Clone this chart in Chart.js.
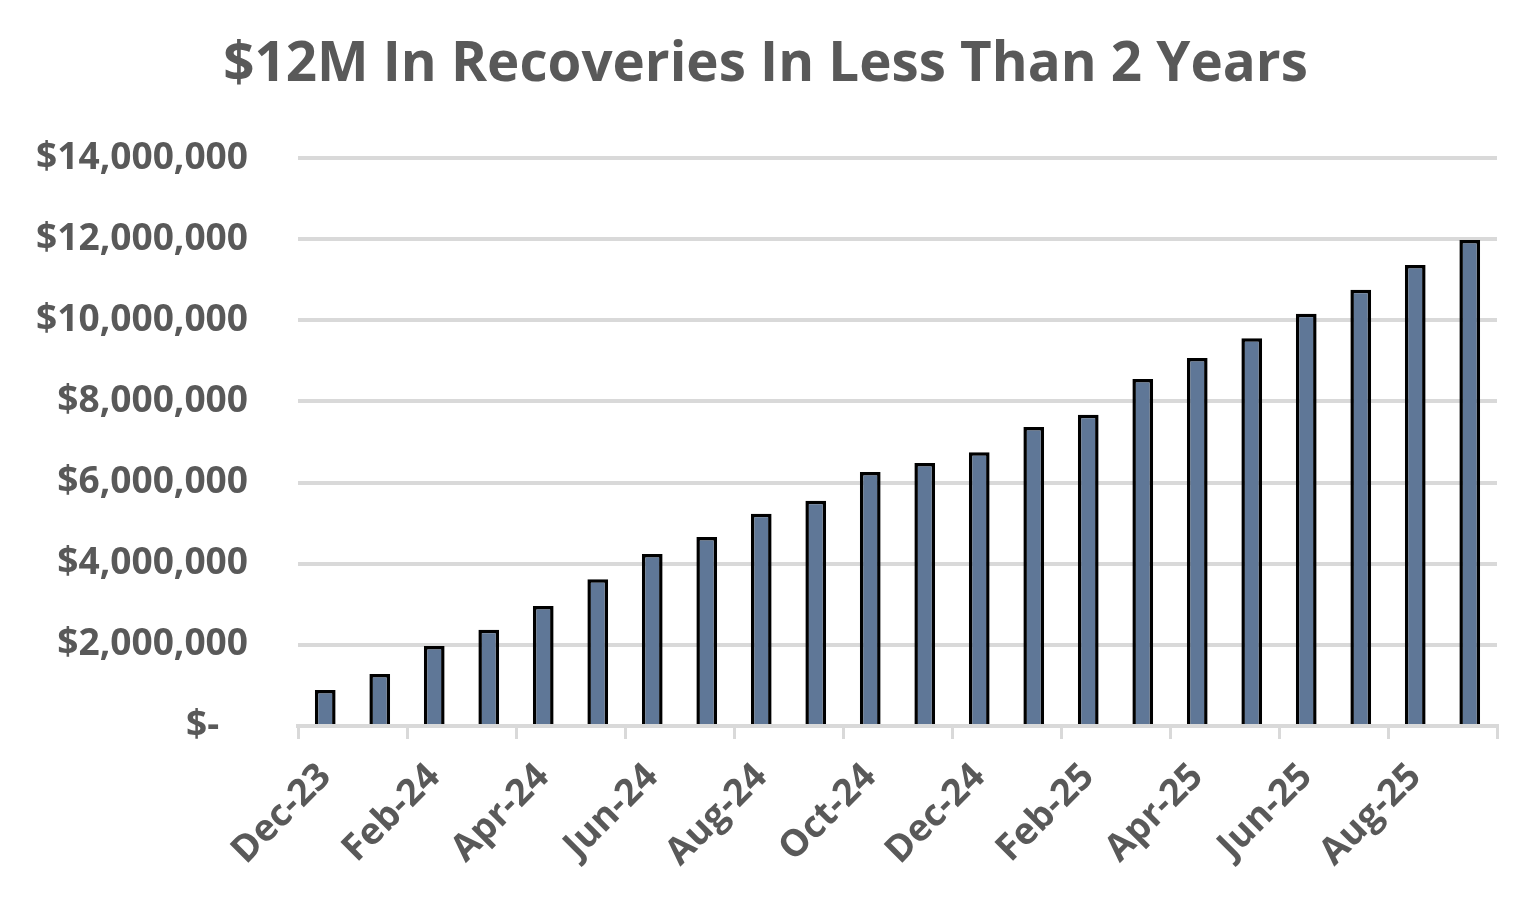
<!DOCTYPE html>
<html>
<head>
<meta charset="utf-8">
<script src="https://cdn.jsdelivr.net/npm/chart.js@4"></script>
<style>
  html, body { margin: 0; padding: 0; background: #ffffff; }
</style>
</head>
<body>
<canvas id="recoveryChart" width="1531" height="899"></canvas>
<script>
// Data
var months = ['Dec-23', 'Jan-24', 'Feb-24', 'Mar-24', 'Apr-24', 'May-24', 'Jun-24', 'Jul-24',
              'Aug-24', 'Sep-24', 'Oct-24', 'Nov-24', 'Dec-24', 'Jan-25', 'Feb-25', 'Mar-25',
              'Apr-25', 'May-25', 'Jun-25', 'Jul-25', 'Aug-25', 'Sep-25'];
var recoveries = [890000, 1280000, 1970000, 2370000, 2960000, 3620000, 4240000, 4660000,
                  5230000, 5550000, 6260000, 6480000, 6750000, 7370000, 7670000, 8550000,
                  9070000, 9560000, 10160000, 10750000, 11360000, 11980000];
var yMin = 0;
var yMax = 14000000;
var yStep = 2000000;

var fontFamily = "'Open Sans', 'Noto Sans', sans-serif";
var textColor = '#595959';
var gridColor = '#d9d9d9';

// size a font so a sample text gets a given width
function fitSize(text, target) {
    var m = document.createElement('canvas').getContext('2d');
    m.font = 'bold 100px ' + fontFamily;
    return 100 * target / m.measureText(text).width;
}
var titleSize = fitSize('$12M In Recoveries In Less Than 2 Years', 1085);
var tickSize = fitSize('$14,000,000', 212);

Chart.defaults.font.family = fontFamily;
Chart.defaults.color = textColor;

var ctx = document.getElementById('recoveryChart').getContext('2d');

var data = {
    labels: months,
    datasets: [{
        label: 'Recoveries',
        data: recoveries,
        backgroundColor: '#5f7797',
        borderColor: '#000000',
        borderWidth: 3.5,
        borderSkipped: 'bottom',
        categoryPercentage: 1.0,
        barPercentage: 0.38
    }]
};

var options = {
    responsive: false,
    animation: false,
    layout: {
        padding: 0
    },
    plugins: {
        legend: { display: false },
        tooltip: { enabled: false },
        title: {
            display: true,
            text: '$12M In Recoveries In Less Than 2 Years',
            color: textColor,
            font: { size: titleSize, weight: 'bold', lineHeight: 1.2 },
            padding: { top: 65 - titleSize * 0.6, bottom: 158 - 65 - titleSize * 0.6 }
        }
    },
    scales: {
        x: {
            offset: true,
            grid: {
                offset: true,
                drawOnChartArea: false,
                drawTicks: true,
                tickLength: 13,
                lineWidth: 3,
                tickColor: function(c) {
                    return (c.index === undefined || c.index % 2 === 0) ? gridColor : 'rgba(0,0,0,0)';
                }
            },
            border: { display: true, color: gridColor, width: 4 },
            ticks: {
                autoSkip: false,
                minRotation: 45,
                maxRotation: 45,
                padding: 16,
                color: textColor,
                font: { size: tickSize, weight: 'bold' },
                callback: function(value, index) {
                    return index % 2 === 0 ? this.getLabelForValue(value) : '';
                }
            },
            afterFit: function(scale) { scale.height = 899 - 726; }
        },
        y: {
            min: yMin,
            max: yMax,
            grid: { color: gridColor, lineWidth: 4, drawTicks: false },
            border: { display: false },
            ticks: {
                stepSize: yStep,
                padding: 50,
                color: textColor,
                font: { size: tickSize, weight: 'bold' },
                callback: function(value) {
                    return value === 0 ? '$-   ' : '$' + value.toLocaleString('en-US');
                }
            },
            afterFit: function(scale) { scale.width = 298; }
        },
        // empty axis on the right, only keeps the right margin so the title stays centred on the page
        yRight: {
            type: 'linear',
            position: 'right',
            grid: { display: false },
            border: { display: false },
            ticks: { display: false },
            afterFit: function(scale) { scale.width = 1531 - 1497; }
        }
    }
};

var recoveryChart = new Chart(ctx, {
    type: 'bar',
    data: data,
    options: options
});
</script>
</body>
</html>
